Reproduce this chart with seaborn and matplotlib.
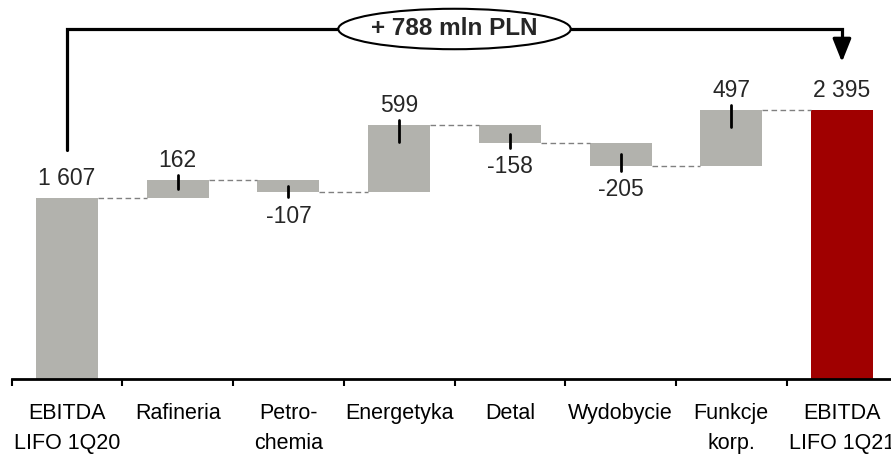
import numpy as np
import matplotlib.pyplot as plt
import seaborn as sns
from matplotlib.patches import Ellipse

categories = ["EBITDA\nLIFO 1Q20", "Rafineria", "Petro-\nchemia", "Energetyka",
              "Detal", "Wydobycie", "Funkcje\nkorp.", "EBITDA\nLIFO 1Q21"]
values = [1607, 162, -107, 599, -158, -205, 497, 2395]
is_total = [True, False, False, False, False, False, False, True]
change_label = "+ 788 mln PLN"

grey = "#b2b2ad"
red = "#a00000"

# running totals -> bar bottoms / heights
bottoms, heights, ends = [], [], []
run = 0
for v, tot in zip(values, is_total):
    if tot:
        bottoms.append(0)
        heights.append(v)
        run = v
    else:
        start = run
        run = run + v
        bottoms.append(min(start, run))
        heights.append(abs(v))
    ends.append(run)

sns.set_style("white")
plt.rcParams["font.family"] = ["Liberation Sans", "DejaVu Sans"]

fig = plt.figure(figsize=(8.91, 4.57), dpi=100)
ax = fig.add_axes([11.7 / 891, 78 / 457, 885.6 / 891, 379 / 457])

sns.barplot(x=categories, y=heights, bottom=bottoms, color=grey, saturation=1,
            width=0.56, errorbar=None, linewidth=0, ax=ax)
ax.patches[-1].set_facecolor(red)

ax.set_xlim(-0.5, 7.5)
ax.set_ylim(0, 3373)

# dashed connectors
for i in range(len(values) - 1):
    ax.plot([i + 0.28, i + 1 - 0.28], [ends[i], ends[i]], color="#808080",
            lw=1, ls=(0, (4, 2.5)), zorder=1)

# small markers on the change bars
for i, v in enumerate(values):
    if is_total[i]:
        continue
    s = 1 if v > 0 else -1
    ax.plot([i, i], [ends[i] + s * 45, ends[i] - s * min(abs(v) / 2, 150)],
            color="black", lw=2, zorder=3)

# value labels
for i, v in enumerate(values):
    txt = f"{v:,}".replace(",", " ")
    if is_total[i] or v > 0:
        ax.annotate(txt, (i, ends[i]), xytext=(0, 6), textcoords="offset points",
                    ha="center", va="bottom", fontsize=16.5)
    else:
        ax.annotate(txt, (i, ends[i]), xytext=(0, -9), textcoords="offset points",
                    ha="center", va="top", fontsize=16.5)

# bracket with total change
y_br = 3115
ax.plot([0, 0, 7, 7], [2040, y_br, y_br, 2950], color="black", lw=2.3,
        solid_joinstyle="miter", clip_on=False)
ax.annotate("", xy=(7, 2821), xytext=(7, 2960),
            arrowprops=dict(arrowstyle="-|>,head_length=0.7,head_width=0.28",
                            color="black", lw=2.3, shrinkA=0, shrinkB=0,
                            mutation_scale=20))
ax.add_patch(Ellipse((3.5, y_br), 2.1, 360, fc="white", ec="black", lw=1.5,
                     zorder=4, clip_on=False))
ax.text(3.5, y_br, change_label, ha="center", va="center", fontsize=17.5,
        fontweight="bold", zorder=5)

# axis
sns.despine(ax=ax, left=True)
ax.spines["bottom"].set_linewidth(2)
ax.spines["bottom"].set_color("black")
ax.set_yticks([])
ax.set_xlabel("")
ax.set_ylabel("")
ax.set_xticks(np.arange(-0.5, 7.0, 1.0), labels=[""] * 8)
ax.set_xticks(range(8), labels=categories, minor=True)
ax.tick_params(axis="x", which="major", bottom=True, length=5, width=1.5,
               color="black", direction="out")
ax.tick_params(axis="x", which="minor", bottom=True, length=0, pad=17,
               labelsize=15.5, labelcolor="black")
for lbl in ax.get_xticklabels(minor=True):
    lbl.set_linespacing(1.6)

fig.savefig("out.png", dpi=100)
